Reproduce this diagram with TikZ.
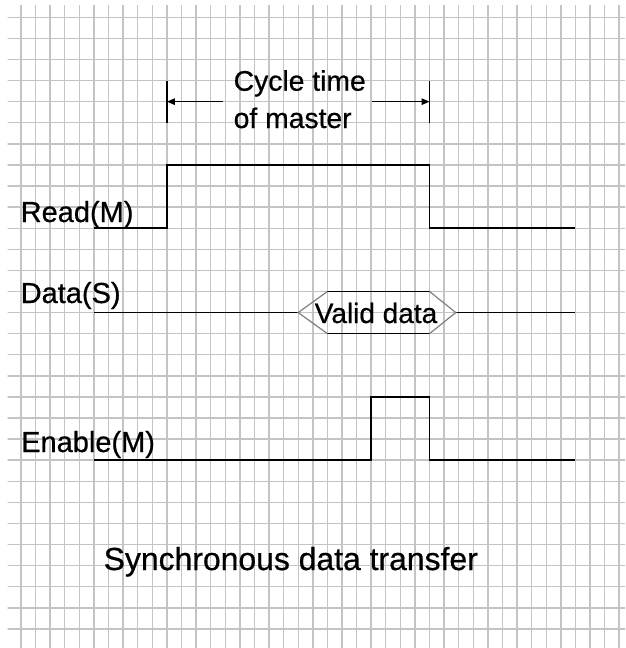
\documentclass[tikz,border=0pt]{standalone}
\usepackage{fontspec}
\setmainfont{Liberation Sans}[FakeBold=0.6]
\usetikzlibrary{arrows.meta}
\tikzset{
  gridline/.style={draw=black!23, line width=1.4pt},
  wave/.style={draw=black, line width=1.5pt, line join=miter},
  hexside/.style={draw=black!50, line width=1.2pt},
  tick/.style={draw=black, line width=1.4pt},
  dimarrow/.style={draw=black, line width=1.2pt, -{Triangle[length=8pt,width=6.5pt]}},
  sigtext/.style={inner sep=0pt, anchor=base west, font=\fontsize{29}{34}\selectfont},
  cyctext/.style={inner sep=0pt, anchor=base west, font=\fontsize{28.3}{33}\selectfont},
  titletext/.style={inner sep=0pt, anchor=base west, font=\fontsize{31.9}{37}\selectfont},
}
\begin{document}
\begin{tikzpicture}[x=1pt,y=-1pt]
\useasboundingbox (0,0) rectangle (625,648);
\fill[white] (0,0) rectangle (625,648);

% squared paper background
\begin{scope}
  \clip (7.5,5) rectangle (625,648);
  \begin{scope}[shift={(21,17.3)}, x=14.59pt, y=-21.09pt]
    \foreach \k in {-1,...,42} \draw[gridline] (\k,-1) -- (\k,30);
    \foreach \j in {-1,...,30} \draw[gridline] (-2,\j) -- (43,\j);
  \end{scope}
\end{scope}

% waveforms, in grid units
\begin{scope}[shift={(21,17.3)}, x=14.59pt, y=-21.09pt]
  % cycle time dimension
  \draw[tick] (10,3) -- (10,5);
  \draw[tick] (28,3) -- (28,5);
  \coordinate (tl) at (10,4);
  \coordinate (tr) at (28,4);
  \coordinate (al) at (13.85,4);
  \coordinate (ar) at (24.05,4);
  \draw[dimarrow] (al) -- (tl);
  \draw[dimarrow] (ar) -- (tr);

  % Read(M)
  \draw[wave] (5,10) -- (10,10) -- (10,7) -- (28,7) -- (28,10) -- (38,10);

  % Data(S) with valid-data window
  \draw[wave] (5,14) -- (19,14);
  \draw[wave] (29.8,14) -- (38,14);
  \draw[wave] (21,13) -- (28,13);
  \draw[wave] (21,15) -- (28,15);
  \draw[hexside] (21,13) -- (19,14) -- (21,15);
  \draw[hexside] (28,13) -- (29.8,14) -- (28,15);

  % Enable(M)
  \draw[wave] (5,21) -- (24,21) -- (24,18) -- (28,18) -- (28,21) -- (38,21);
\end{scope}

% labels
\node[cyctext] (cyc1) at (233.5,90.7) {Cycle time};
\node[cyctext] (cyc2) at (233.5,128) {of master};
\node[sigtext] (rd) at (20.5,222) {Read(M)};
\node[sigtext] (dt) at (20.5,303) {Data(S)};
\node[sigtext] (en) at (21,452) {Enable(M)};
\node[inner sep=0pt, anchor=base, font=\fontsize{28}{33}\selectfont] (vd) at (376,323) {Valid data};
\node[titletext] (ttl) at (103.5,570) {Synchronous data transfer};
\end{tikzpicture}
\end{document}
